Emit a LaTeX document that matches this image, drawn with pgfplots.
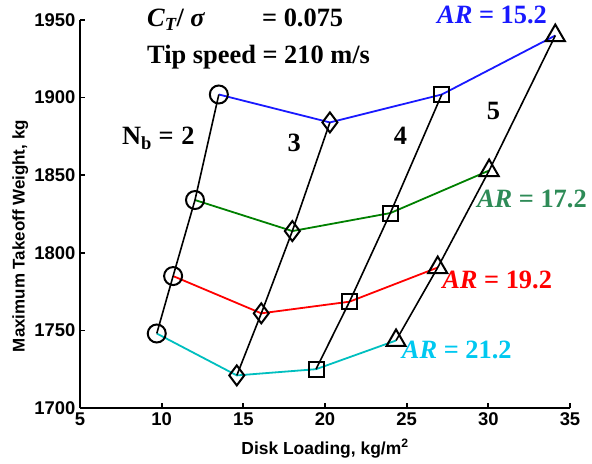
\documentclass[border=0pt]{standalone}
\usepackage{fontspec}
\setmainfont{Liberation Serif}
\setsansfont{Liberation Sans}
\usepackage{pgfplots}
\pgfplotsset{compat=1.18}

\definecolor{cblue}{RGB}{25,25,255}
\definecolor{cgreen}{RGB}{0,128,0}
\definecolor{cred}{RGB}{255,0,0}
\definecolor{ccyan}{RGB}{0,191,191}
\definecolor{lgreen}{RGB}{46,139,87}
\definecolor{lcyan}{RGB}{0,200,240}

\begin{document}
\begin{tikzpicture}
\begin{axis}[
 scale only axis, width=490bp, height=388bp,
 xmin=5, xmax=35, ymin=1700, ymax=1950,
 axis x line*=bottom, axis y line*=left,
 xtick={5,10,...,35}, ytick={1700,1750,...,1950},
 tick align=inside, major tick length=5bp,
 axis line style={line width=1.8bp},
 tick style={line width=1.8bp, black},
 ticklabel style={font=\sffamily\bfseries\fontsize{18.5}{19}\selectfont},
 /pgf/number format/assume math mode=true,
 /pgf/number format/1000 sep={},
 xticklabel style={yshift=-1bp},
 yticklabel style={xshift=-1bp},
 xlabel={Disk Loading, kg/m\textsuperscript{2}},
 ylabel={Maximum Takeoff Weight, kg},
 xlabel style={font=\sffamily\bfseries\fontsize{17.5}{18}\selectfont, at={(axis description cs:0.5,0)}, anchor=base, yshift=-46bp},
 ylabel style={font=\sffamily\bfseries\fontsize{17}{17}\selectfont, at={(axis description cs:-0.122,0.443)}, anchor=center},
 clip=false,
]
\coordinate (ll) at (rel axis cs:0,0);
\coordinate (ur) at (rel axis cs:1,1);

\addplot[cblue, line width=1.8bp] coordinates {(13.5,1902) (20.3,1884) (27.15,1902) (34.1,1940)};
\addplot[cgreen, line width=1.8bp] coordinates {(12.04,1834) (18.0,1814) (24.0,1825.6) (30.05,1853)};
\addplot[cred, line width=1.8bp] coordinates {(10.7,1785) (16.1,1761) (21.5,1768.5) (26.9,1790.5)};
\addplot[ccyan, line width=1.8bp] coordinates {(9.7,1748) (14.6,1721) (19.45,1725) (24.35,1743.5)};

\addplot[black, line width=1.6bp, mark=o, mark size=9bp, mark options={line width=2bp}] coordinates {(9.7,1748) (10.7,1785) (12.04,1834) (13.5,1902)};
\addplot[black, line width=1.6bp, mark=diamond, mark size=10bp, mark options={line width=2bp}] coordinates {(14.6,1721) (16.1,1761) (18.0,1814) (20.3,1884)};
\addplot[black, line width=1.6bp, mark=square, mark size=7.5bp, mark options={line width=2bp}] coordinates {(19.45,1725) (21.5,1768.5) (24.0,1825.6) (27.15,1902)};
\addplot[black, line width=1.6bp, mark=triangle, mark size=11bp, mark options={line width=2bp}] coordinates {(24.35,1743.5) (26.9,1790.5) (30.05,1853) (34.1,1940)};

\tikzset{ann/.style={anchor=base west, font=\bfseries\fontsize{26.5}{27}\selectfont, inner sep=0pt}}
\node[ann] at (axis cs:9.1,1945.5) {\textit{C\textsubscript{T}}/ \textit{σ}};
\node[ann] at (axis cs:16.14,1945.5) {= 0.075};
\node[ann] at (axis cs:9.1,1922) {Tip speed = 210 m/s};
\node[ann] at (axis cs:7.57,1869.5) {N\textsubscript{b} =};
\node[ann] at (axis cs:11.2,1869.5) {2};
\node[ann] at (axis cs:17.7,1865) {3};
\node[ann] at (axis cs:24.2,1869.5) {4};
\node[ann] at (axis cs:29.9,1885.6) {5};
\node[ann, text=cblue] at (axis cs:26.86,1948) {\textit{AR} = 15.2};
\node[ann, text=lgreen] at (axis cs:29.3,1828.9) {\textit{AR} = 17.2};
\node[ann, text=cred] at (axis cs:27.17,1777.3) {\textit{AR} = 19.2};
\node[ann, text=lcyan] at (axis cs:24.7,1732) {\textit{AR} = 21.2};
\end{axis}
\pgfresetboundingbox
\path[use as bounding box] ([shift={(-80bp,-56bp)}]ll) rectangle ([shift={(22bp,20bp)}]ur);
\end{tikzpicture}
\end{document}
